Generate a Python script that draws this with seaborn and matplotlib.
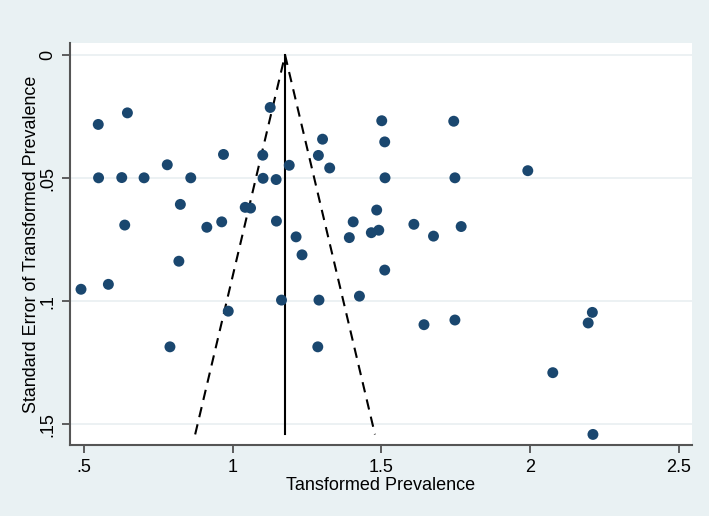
import matplotlib
matplotlib.use("Agg")
import matplotlib.pyplot as plt
import numpy as np
import pandas as pd
import seaborn as sns

# transformed prevalence (x) and its standard error (y)
prevalence = [0.548, 0.646, 1.126, 0.969, 1.101, 1.288, 1.302, 0.780, 1.190, 1.326,
              0.549, 0.627, 0.702, 0.859, 1.102, 1.146, 0.824, 1.042, 1.060, 0.637,
              0.913, 0.963, 1.147, 1.405, 1.213, 1.233, 1.392, 1.466, 1.491, 1.484,
              1.501, 1.743, 1.511, 1.512, 1.747, 1.609, 1.675, 1.768, 1.992, 0.819,
              0.490, 0.582, 0.985, 0.789, 1.164, 1.290, 1.426, 1.286, 1.511, 1.643,
              1.747, 2.209, 2.195, 2.076, 2.211]
std_err = [0.0282, 0.0235, 0.0213, 0.0404, 0.0407, 0.0408, 0.0342, 0.0446, 0.0448, 0.0459,
           0.0499, 0.0498, 0.0499, 0.0499, 0.0501, 0.0506, 0.0607, 0.0619, 0.0622, 0.0691,
           0.0700, 0.0678, 0.0675, 0.0678, 0.0739, 0.0812, 0.0742, 0.0722, 0.0712, 0.0630,
           0.0267, 0.0269, 0.0353, 0.0499, 0.0499, 0.0688, 0.0736, 0.0697, 0.0470, 0.0838,
           0.0952, 0.0932, 0.1041, 0.1186, 0.0996, 0.0996, 0.0980, 0.1186, 0.0874, 0.1096,
           0.1077, 0.1046, 0.1089, 0.1291, 0.1542]
pooled = 1.176

xticks = [0.5, 1, 1.5, 2, 2.5]
xtick_labels = [".5", "1", "1.5", "2", "2.5"]
yticks = [0, 0.05, 0.1, 0.15]
ytick_labels = ["0", ".05", ".1", ".15"]

df = pd.DataFrame({"prev": prevalence, "se": std_err})

plt.rcParams["font.family"] = ["Liberation Sans", "DejaVu Sans"]
bg = "#e9f1f3"
fig = plt.figure(figsize=(7.09, 5.16), dpi=100, facecolor=bg)
ax = fig.add_axes([70 / 709, 71 / 516, 622 / 709, 402 / 516])
ax.set_facecolor("white")

for t in yticks:
    ax.axhline(t, color="#eaf0f2", lw=1.3, zorder=0)

# pseudo 95% confidence limits
se_max = df["se"].max()
ax.plot([pooled - 1.96 * se_max, pooled, pooled + 1.96 * se_max], [se_max, 0, se_max],
        color="black", lw=1.5, ls=(0, (5, 3.5)), zorder=2)
ax.plot([pooled, pooled], [0, se_max], color="black", lw=1.5, zorder=2)

sns.scatterplot(data=df, x="prev", y="se", color="#1a476f", s=62, edgecolor="none",
                ax=ax, zorder=3)

ax.set_xlim(0.453, 2.544)
ax.set_ylim(0.1585, -0.0049)
ax.set_xticks(xticks)
ax.set_xticklabels(xtick_labels)
ax.set_yticks(yticks)
ax.set_yticklabels(ytick_labels, rotation=90, va="center")
ax.tick_params(axis="both", labelsize=13, length=6, width=1.2, color="#444444", pad=4)
ax.set_xlabel("Tansformed Prevalence", fontsize=13, labelpad=1)
ax.set_ylabel("Standard Error of Transformed Prevalence", fontsize=12.9)
ax.yaxis.set_label_coords(-0.049, 0.5)

for side in ["top", "right"]:
    ax.spines[side].set_visible(False)
for side in ["left", "bottom"]:
    ax.spines[side].set_color("#555555")
    ax.spines[side].set_linewidth(1.5)

plt.savefig("out.png", dpi=100, facecolor=bg)
